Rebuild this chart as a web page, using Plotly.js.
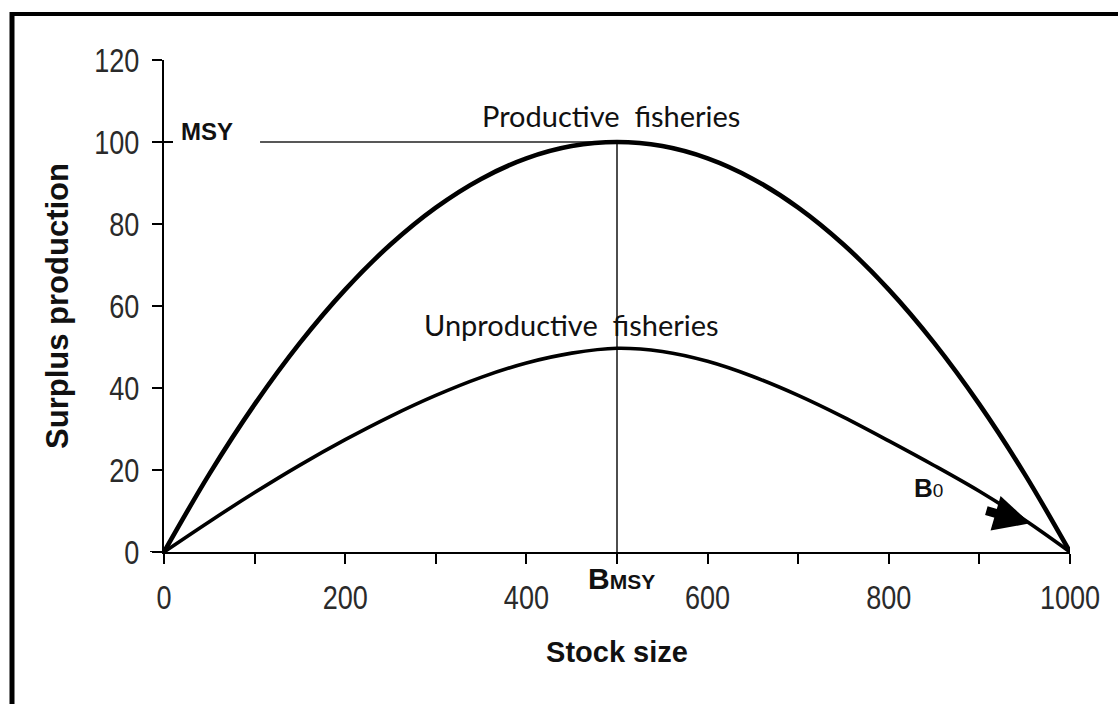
<!DOCTYPE html>
<html>
<head>
<meta charset="utf-8">
<script src="https://cdn.plot.ly/plotly-3.0.1.min.js"></script>
<style>html,body{margin:0;padding:0;background:#fff;}#chart{width:1118px;height:704px;}</style>
</head>
<body>
<div id="chart"></div>
<script>
// Stock size (x) values
var stockSize = [0, 50, 100, 150, 200, 250, 300, 350, 400, 450, 500, 550, 600, 650, 700, 750, 800, 850, 900, 950, 1000];
// Surplus production, productive fisheries
var productive = [0, 19, 36, 51, 64, 75, 84, 91, 96, 99, 100, 99, 96, 91, 84, 75, 64, 51, 36, 19, 0];
// Surplus production, unproductive fisheries
var unproductive = [0, 7.4, 14.5, 21.2, 27.4, 33.1, 38.2, 42.6, 46.1, 48.5, 49.7, 48.9, 46.5, 42.8, 38.2, 32.9, 27.1, 21.1, 14.8, 7.8, 0];
// MSY reference line (horizontal at MSY, vertical at BMSY)
var refLineX = [106, 500, 500];
var refLineY = [100, 100, 0];
// Tick values
var xTickVals = [0, 200, 400, 600, 800, 1000];
var xTickText = ['0', '200', '400', '600', '800', '1000'];
var xMinorVals = [100, 300, 500, 700, 900];
var yTickVals = [0, 20, 40, 60, 80, 100, 120];
var yTickText = ['0', '20', '40', '60', '80', '100', '120'];

var arial = 'Liberation Sans, Arial, sans-serif';
var calib = 'Lato, Open Sans, sans-serif';

var traces = [
  {x: refLineX, y: refLineY, mode: 'lines', line: {color: '#222', width: 1.6}, cliponaxis: false, hoverinfo: 'skip'},
  {x: stockSize, y: productive, mode: 'lines', line: {color: '#000', width: 4.6, shape: 'spline', smoothing: 1}, cliponaxis: false},
  {x: stockSize, y: unproductive, mode: 'lines', line: {color: '#000', width: 3.6, shape: 'spline', smoothing: 1}, cliponaxis: false}
];

var W = 906, H = 492;
var layout = {
  width: 1118, height: 704,
  margin: {l: 164, r: 48, t: 60, b: 152},
  paper_bgcolor: '#fff', plot_bgcolor: '#fff',
  showlegend: false,
  xaxis: {
    range: [0, 1000], tickmode: 'array', tickvals: xTickVals, ticktext: xTickText,
    ticks: 'outside', ticklen: 10, tickwidth: 2, tickcolor: '#000',
    showline: true, linewidth: 2, linecolor: '#000', showgrid: false, zeroline: false,
    minor: {tickmode: 'array', tickvals: xMinorVals, ticks: 'outside', ticklen: 10, tickwidth: 2, tickcolor: '#000', showgrid: false},
    tickfont: {family: arial, size: 33, color: '#2a2a2a'},
    ticklabelstandoff: 5,
    title: {text: '<b>Stock size</b>', font: {family: arial, size: 29, color: '#111'}, standoff: 27}
  },
  yaxis: {
    range: [0, 120], tickmode: 'array', tickvals: yTickVals, ticktext: yTickText,
    ticks: 'outside', ticklen: 10, tickwidth: 2, tickcolor: '#000',
    showline: true, linewidth: 2, linecolor: '#000', showgrid: false, zeroline: false,
    tickfont: {family: arial, size: 33, color: '#2a2a2a'},
    ticklabelstandoff: 6,
    title: {text: '<b>Surplus production</b>', font: {family: arial, size: 31, color: '#111'}, standoff: 6}
  },
  shapes: [
    {type: 'line', xref: 'paper', yref: 'paper', x0: (12 - 164) / W, x1: (12 - 164) / W, y0: (552 - 12) / H, y1: (552 - 720) / H, line: {color: '#000', width: 5}},
    {type: 'line', xref: 'paper', yref: 'paper', x0: (10 - 164) / W, x1: (1130 - 164) / W, y0: (552 - 14) / H, y1: (552 - 14) / H, line: {color: '#000', width: 4}},
    {type: 'line', xref: 'paper', yref: 'y', x0: -14 / W, x1: 0, y0: 0, y1: 0, line: {color: '#000', width: 2}},
    {type: 'line', xref: 'paper', yref: 'y', x0: 0, x1: 9 / W, y0: 100, y1: 100, line: {color: '#000', width: 2}}
  ],
  annotations: [
    {x: 493, y: 106.5, xref: 'x', yref: 'y', text: 'Productive&nbsp; fisheries', showarrow: false, xanchor: 'center', yanchor: 'middle', font: {family: calib, size: 29, color: '#111'}},
    {x: 450, y: 55.5, xref: 'x', yref: 'y', text: 'Unproductive&nbsp; fisheries', showarrow: false, xanchor: 'center', yanchor: 'middle', font: {family: calib, size: 29, color: '#111'}},
    {x: 47, y: 102.5, xref: 'x', yref: 'y', text: '<b>MSY</b>', showarrow: false, xanchor: 'center', yanchor: 'middle', font: {family: arial, size: 24, color: '#111'}},
    {x: 505, y: -26 / H, xref: 'x', yref: 'paper', text: '<b>B</b><b><span style="font-size:21px">MSY</span></b>', showarrow: false, xanchor: 'center', yanchor: 'middle', font: {family: arial, size: 30, color: '#111'}},
    {x: 844, y: 15.6, xref: 'x', yref: 'y', text: '<b>B</b><span style="font-size:19px">0</span>', showarrow: false, xanchor: 'center', yanchor: 'middle', font: {family: arial, size: 26, color: '#111'}},
    {x: 956, y: 7.0, ax: 906, ay: 10.2, xref: 'x', yref: 'y', axref: 'x', ayref: 'y', text: '', showarrow: true, arrowhead: 2, arrowsize: 0.8, arrowwidth: 9, arrowcolor: '#000', standoff: 0, startstandoff: 0}
  ]
};

Plotly.newPlot('chart', traces, layout, {displayModeBar: false, staticPlot: true}).then(function () {
  // condense tick labels horizontally (the original uses a narrow face)
  var s = 0.82;
  document.querySelectorAll('#chart .xtick text, #chart .ytick text').forEach(function (el) {
    var bb = el.getBBox();
    var anchor = el.getAttribute('text-anchor') || 'start';
    var cx = anchor === 'middle' ? bb.x + bb.width / 2 : (anchor === 'end' ? bb.x + bb.width : bb.x);
    var t = el.getAttribute('transform') || '';
    el.setAttribute('transform', t + ' translate(' + cx + ',0) scale(' + s + ',1) translate(' + (-cx) + ',0)');
  });
});
</script>
</body>
</html>
